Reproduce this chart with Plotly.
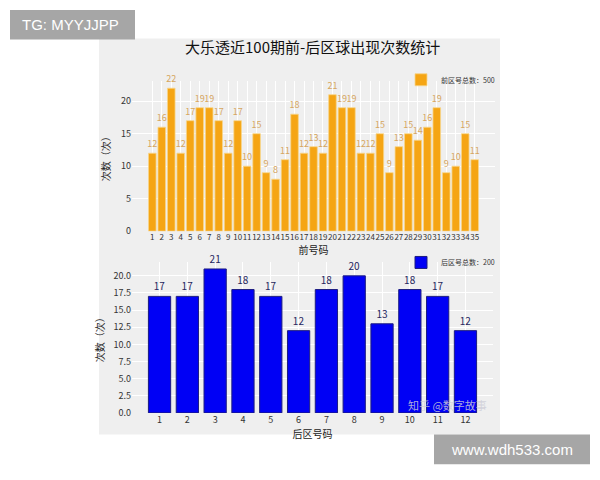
from plotly.subplots import make_subplots
import plotly.graph_objects as go

# 数据：前区 1-35，后区 1-12 的出现次数
front_numbers = list(range(1, 36))
front_counts = [12, 16, 22, 12, 17, 19, 19, 17, 12, 17, 10, 15, 9, 8, 11, 18, 12, 13, 12, 21,
                19, 19, 12, 12, 15, 9, 13, 15, 14, 16, 19, 9, 10, 15, 11]
back_numbers = list(range(1, 13))
back_counts = [17, 17, 21, 18, 17, 12, 18, 20, 13, 18, 17, 12]

front_total = sum(front_counts)
back_total = sum(back_counts)

W, H = 600, 480
OFF = 8  # 页面 body 默认留白，按屏幕像素反推
FONT = "Noto Sans CJK SC"


def px(x):
    return (x - OFF) / W


def py(y):
    return 1 - (y - OFF) / H


fig = make_subplots(rows=2, cols=1)

fig.add_trace(go.Bar(
    x=front_numbers, y=front_counts, width=0.8,
    marker=dict(color="#f5a514", line=dict(color="#f7d58a", width=0.8)),
    text=front_counts, textposition="outside", cliponaxis=False, constraintext="none",
    textfont=dict(color="#d6a660", size=9, family=FONT),
    name=f"前区号总数：{front_total}", legend="legend", showlegend=True,
), row=1, col=1)

fig.add_trace(go.Bar(
    x=back_numbers, y=back_counts, width=0.8,
    marker=dict(color="#0000f5", line=dict(color="#1c1c80", width=1)),
    text=back_counts, textposition="outside", cliponaxis=False, constraintext="none",
    textfont=dict(color="#26265e", size=10, family=FONT),
    name=f"后区号总数：{back_total}", legend="legend2", showlegend=True,
), row=2, col=1)

axis_common = dict(showgrid=True, gridcolor="white", gridwidth=1, zeroline=False,
                   ticks="", tickfont=dict(size=9, color="#333333", family=FONT),
                   showline=False)
title_font = dict(size=10, family=FONT, color="#222")

fig.update_xaxes(axis_common)
fig.update_yaxes(axis_common)

fig.update_xaxes(row=1, col=1, domain=[px(132), px(495)], range=[-1.14, 37.14],
                 tickmode="array", tickvals=front_numbers, tickangle=0,
                 tickfont=dict(size=8, color="#333333", family=FONT),
                 title=dict(text="前号码", standoff=2, font=title_font))
fig.update_yaxes(row=1, col=1, domain=[py(234), py(82)], range=[0, 23.1], dtick=5,
                 title=dict(text="次数（次）", standoff=8, font=title_font))

fig.update_xaxes(row=2, col=1, domain=[px(132), px(493)], range=[0.01, 12.99],
                 tickmode="array", tickvals=back_numbers,
                 title=dict(text="后区号码", standoff=2, font=title_font))
fig.update_yaxes(row=2, col=1, domain=[py(418), py(265)], range=[0, 22.05], dtick=2.5,
                 tickformat=".1f",
                 title=dict(text="次数（次）", standoff=6, font=title_font))

# 图片区域的灰色背景和两个水印框
shapes = [
    dict(type="rect", xref="paper", yref="paper", x0=px(99), x1=px(500), y0=py(440), y1=py(39),
         fillcolor="#efefef", line=dict(width=0), layer="below"),
    dict(type="rect", xref="paper", yref="paper", x0=px(10), x1=px(135), y0=py(40), y1=py(10),
         fillcolor="#a6a6a6", line=dict(width=0), layer="below"),
    dict(type="rect", xref="paper", yref="paper", x0=px(434), x1=px(590), y0=py(470), y1=py(440),
         fillcolor="#a6a6a6", line=dict(width=0), layer="below"),
]


def note(text, x, y, size, color, family=FONT, xanchor="center"):
    return dict(text=text, x=px(x), y=py(y), xref="paper", yref="paper",
                xanchor=xanchor, yanchor="middle", showarrow=False,
                font=dict(size=size, color=color, family=family))


annotations = [
    note("大乐透近100期前-后区球出现次数统计", 312, 47, 15, "#111111"),
    note("TG: MYYJJPP", 20, 25, 15, "white", "Liberation Sans", "left"),
    note("www.wdh533.com", 512, 455, 15, "white", "Liberation Sans"),
    # 水印稍微上移，避免压住刻度标签
    note("知乎 @数字故事", 447, 410, 11, "rgba(205,205,215,0.85)"),
]

legend_style = dict(xanchor="right", yanchor="top", bgcolor="rgba(0,0,0,0)",
                    font=dict(size=7, color="#333", family=FONT))

fig.update_layout(
    width=W, height=H,
    margin=dict(l=0, r=0, t=0, b=0),
    paper_bgcolor="white",
    plot_bgcolor="#e8e9f1",
    font=dict(family=FONT),
    shapes=shapes,
    annotations=annotations,
    showlegend=True,
    legend=dict(x=px(500), y=py(66), **legend_style),
    legend2=dict(x=px(500), y=py(251), **legend_style),
)

fig.write_html("out.html")
